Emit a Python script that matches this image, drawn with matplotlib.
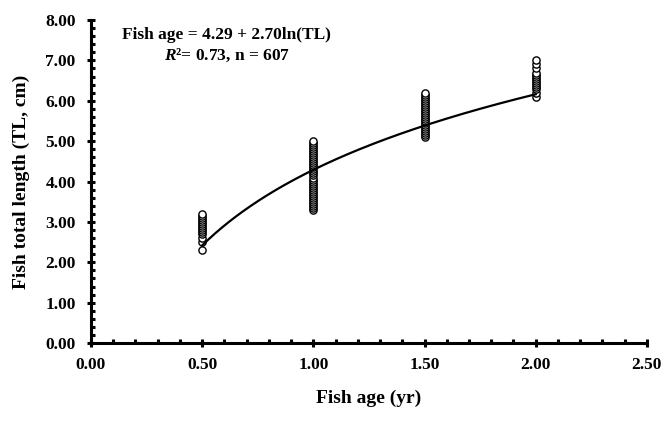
import numpy as np
import matplotlib.pyplot as plt
from matplotlib.ticker import MultipleLocator, FormatStrFormatter

# observed total lengths (cm) at each age class (yr)
age_05 = [2.3, 2.5, 2.6, 2.7, 2.75, 2.8, 2.85, 2.9, 2.95, 3.0, 3.05,
          3.1, 3.15, 3.2]
age_10 = [3.3, 3.35, 3.4, 3.45, 3.5, 3.55, 3.6, 3.65, 3.7, 3.75, 3.8,
          3.85, 3.9, 3.95, 4.0, 4.05, 4.1, 4.15, 4.2, 4.25, 4.3, 4.35,
          4.4, 4.45, 4.5, 4.55, 4.6, 4.65, 4.7, 4.75, 4.8, 4.85, 4.9,
          4.95, 5.0]
age_15 = [5.1, 5.15, 5.2, 5.25, 5.3, 5.35, 5.4, 5.45, 5.5, 5.55, 5.6,
          5.65, 5.7, 5.75, 5.8, 5.85, 5.9, 5.95, 6.0, 6.05, 6.1, 6.15, 6.2]
age_20 = [6.1, 6.2, 6.3, 6.35, 6.4, 6.45, 6.5, 6.55, 6.6, 6.65, 6.7,
          6.8, 6.9, 7.0]
ages = [0.5, 1.0, 1.5, 2.0]
groups = [age_05, age_10, age_15, age_20]

# fitted model: TL = a + b ln(age)
fit_a = 4.29
fit_b = 2.70

plt.rcParams['font.family'] = ['Liberation Serif', 'DejaVu Serif']
plt.rcParams['font.weight'] = 'bold'
plt.rcParams['mathtext.fontset'] = 'custom'
plt.rcParams['mathtext.it'] = 'Liberation Serif:italic:bold'
plt.rcParams['mathtext.rm'] = 'Liberation Serif:bold'

fig = plt.figure(figsize=(6.71, 4.21), dpi=100)
ax = fig.add_axes([0.1356, 0.185, 0.8284, 0.7675])

for a, vals in zip(ages, groups):
    ax.plot([a] * len(vals), vals, 'o', mfc='white', mec='black',
            mew=1.0, ms=5.2, linestyle='none', zorder=2)

xs = np.linspace(0.5, 2.0, 200)
ax.plot(xs, fit_a + fit_b * np.log(xs), color='black', lw=1.6, zorder=3)

ax.set_xlim(0, 2.5)
ax.set_ylim(0, 8)
ax.xaxis.set_major_locator(MultipleLocator(0.5))
ax.xaxis.set_minor_locator(MultipleLocator(0.1))
ax.yaxis.set_major_locator(MultipleLocator(1))
ax.yaxis.set_minor_locator(MultipleLocator(0.2))
ax.xaxis.set_major_formatter(FormatStrFormatter('%.2f'))
ax.yaxis.set_major_formatter(FormatStrFormatter('%.2f'))

for s in ['top', 'right']:
    ax.spines[s].set_visible(False)
for s in ['left', 'bottom']:
    ax.spines[s].set_linewidth(2.2)

ax.tick_params(which='major', direction='inout', length=6, width=2.2,
               labelsize=12.5)
ax.tick_params(axis='x', which='major', pad=7)
ax.tick_params(axis='y', which='major', pad=8)
ax.tick_params(which='minor', direction='in', length=3, width=2.2)

ax.set_xlabel('Fish age (yr)', fontsize=14, fontweight='bold', labelpad=12)
ax.set_ylabel('Fish total length (TL, cm)', fontsize=14, fontweight='bold',
              labelpad=11)

ax.text(0.61, 7.62, 'Fish age = 4.29 + 2.70ln(TL)', ha='center', va='center',
        fontsize=12.5, fontweight='bold')
ax.text(0.61, 7.12, r'$\mathit{R}$²= 0.73, n = 607', ha='center',
        va='center', fontsize=12.5, fontweight='bold')

fig.savefig('out.png', dpi=100)
